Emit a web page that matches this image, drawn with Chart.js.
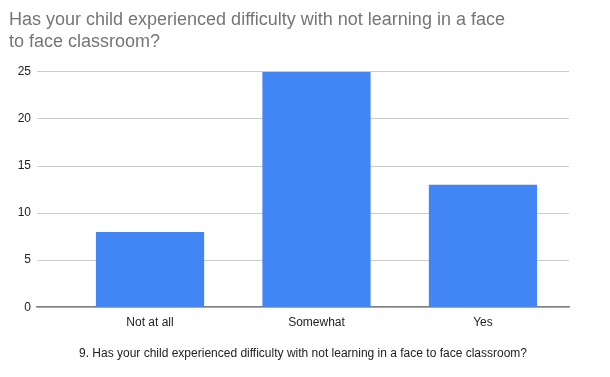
<!DOCTYPE html>
<html>
<head>
<meta charset="utf-8">
<script src="https://cdn.jsdelivr.net/npm/chart.js@4"></script>
<style>
  html, body { margin: 0; padding: 0; background: #fff; }
  #wrap { width: 610px; height: 377px; }
</style>
</head>
<body>
<div id="wrap"><canvas id="myChart"></canvas></div>
<script>
var categories = ['Not at all', 'Somewhat', 'Yes'];
var responses = [8, 25, 13];
var yTicks = [0, 5, 10, 15, 20, 25];

var points = categories.map(function (c, i) { return { x: i, y: responses[i] }; });

var ctx = document.getElementById('myChart').getContext('2d');
var myChart = new Chart(ctx, {
    type: 'bar',
    data: {
        datasets: [{
            label: 'Count',
            data: points,
            backgroundColor: '#4285F4',
            barPercentage: 0.65,
            categoryPercentage: 1
        }]
    },
    options: {
        responsive: true,
        maintainAspectRatio: false,
        animation: false,
        layout: { padding: { left: 9, right: 41, top: 0, bottom: 16 } },
        plugins: {
            legend: { display: false },
            tooltip: { enabled: false },
            title: {
                display: true,
                align: 'start',
                text: ['Has your child experienced difficulty with not learning in a face', 'to face classroom?'],
                color: '#757575',
                font: { family: 'Liberation Sans, Arial, sans-serif', size: 18, weight: 'normal', lineHeight: 1.22 },
                padding: { top: 9, bottom: 19 }
            }
        },
        scales: {
            x: {
                type: 'linear',
                offset: false,
                min: -0.679,
                max: 2.517,
                grid: { display: false, drawTicks: false },
                border: { display: true, color: '#808080', width: 1.5 },
                afterBuildTicks: function (scale) {
                    scale.ticks = categories.map(function (c, i) { return { value: i }; });
                },
                ticks: {
                    padding: 8,
                    color: '#222',
                    font: { family: 'Liberation Sans, Arial, sans-serif', size: 12 },
                    callback: function (v) { return categories[v]; }
                },
                title: {
                    display: true,
                    text: '9. Has your child experienced difficulty with not learning in a face to face classroom?',
                    color: '#222',
                    font: { family: 'Liberation Sans, Arial, sans-serif', size: 12 },
                    padding: { top: 9, bottom: 0 }
                }
            },
            y: {
                min: 0,
                max: 25,
                afterFit: function (scale) { scale.width = 28; },
                afterBuildTicks: function (scale) {
                    scale.ticks = yTicks.map(function (v) { return { value: v }; });
                },
                grid: { color: '#cccccc', drawTicks: false },
                border: { display: false },
                ticks: {
                    padding: 6,
                    color: '#222',
                    font: { family: 'Liberation Sans, Arial, sans-serif', size: 12 }
                }
            }
        }
    }
});
</script>
</body>
</html>
